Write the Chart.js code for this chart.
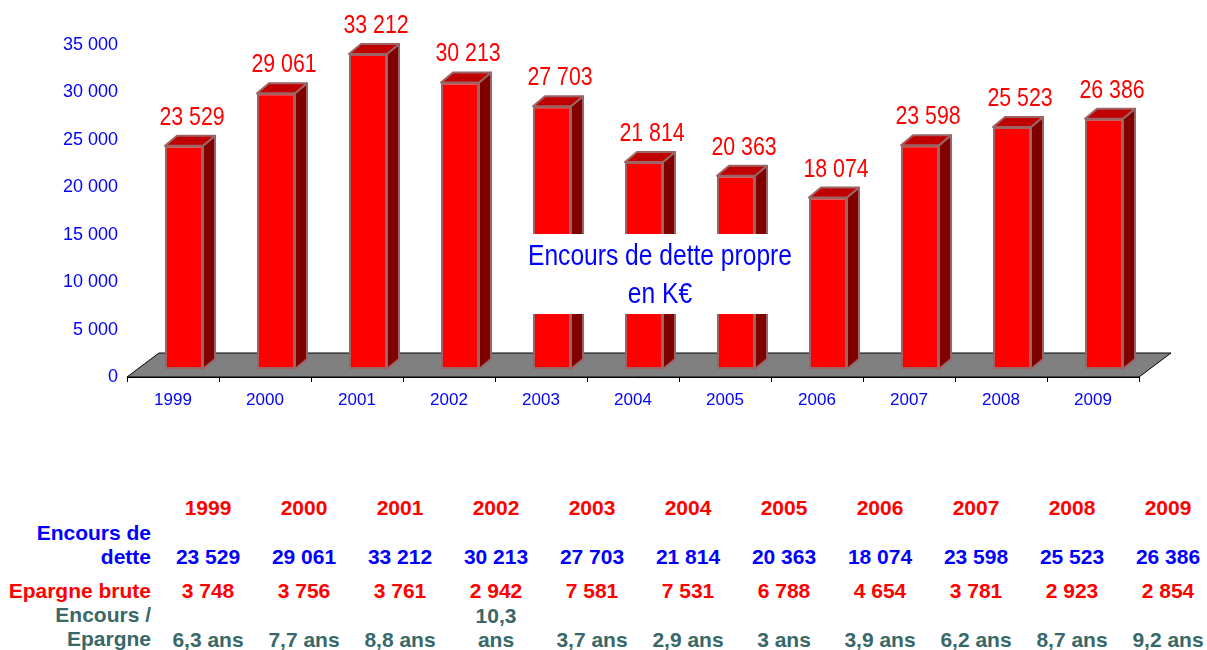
<!DOCTYPE html>
<html>
<head>
<meta charset="utf-8">
<script src="https://cdn.jsdelivr.net/npm/chart.js@4/dist/chart.umd.min.js"></script>
<style>
  html, body { margin:0; padding:0; background:#fff; }
  body { width:1207px; height:650px; position:relative; overflow:hidden; }
  #wrap { position:absolute; left:0; top:0; width:1207px; height:440px; }
  #note { position:absolute; left:518px; top:234px; width:284px; height:80px; background:#fff;
          color:#0000ff; font-family:"Liberation Sans",Arial,sans-serif;
          font-size:30px; line-height:38px; text-align:center; padding-top:2px; box-sizing:border-box; white-space:nowrap; }
  #note span { display:block; width:400px; margin-left:-58px; transform:scaleX(0.82); transform-origin:50% 50%; }
  .cell { position:absolute; width:80px; text-align:center; font-family:"Liberation Sans",Arial,sans-serif;
          font-weight:bold; font-size:21px; line-height:24px; display:flex; flex-direction:column; justify-content:flex-end; }
  .lab { position:absolute; left:5px; width:146px; text-align:right; font-family:"Liberation Sans",Arial,sans-serif;
         font-weight:bold; font-size:21px; line-height:24px; }
</style>
</head>
<body>
<div id="wrap"><canvas id="c" width="1207" height="440"></canvas></div>
<div id="note"><span>Encours de dette propre</span><span>en K€</span></div>
<div id="table"></div>
<script>
const years = ['1999','2000','2001','2002','2003','2004','2005','2006','2007','2008','2009'];
const encours = [23529, 29061, 33212, 30213, 27703, 21814, 20363, 18074, 23598, 25523, 26386];
const epargne = [3748, 3756, 3761, 2942, 7581, 7531, 6788, 4654, 3781, 2923, 2854];
const ratio = ['6,3 ans','7,7 ans','8,8 ans','10,3 ans','3,7 ans','2,9 ans','3 ans','3,9 ans','6,2 ans','8,7 ans','9,2 ans'];
const rowLabels = ['Encours de dette', 'Epargne brute', 'Encours / Epargne'];
const yMin = 0, yMax = 35000, yStep = 5000;

const fmt = n => String(n).replace(/\B(?=(\d{3})+(?!\d))/g, ' ');
const SANS = '"Liberation Sans",Arial,sans-serif';

const DX = 11, DY = -8, SX = 12, SY = -10, FX = 32, FY = -24;

const bar3d = {
  id: 'bar3d',
  beforeDatasetsDraw(chart) {
    const { ctx, chartArea: a } = chart;
    ctx.save();
    ctx.beginPath();
    ctx.moveTo(a.left, a.bottom);
    ctx.lineTo(a.right, a.bottom);
    ctx.lineTo(a.right + FX, a.bottom + FY);
    ctx.lineTo(a.left + FX, a.bottom + FY);
    ctx.closePath();
    ctx.fillStyle = '#808080';
    ctx.fill();
    ctx.strokeStyle = '#000';
    ctx.lineWidth = 1;
    ctx.stroke();
    ctx.restore();

    ctx.save();
    ctx.translate(DX, DY);
    const meta = chart.getDatasetMeta(0);
    meta.data.forEach(b => {
      const x1 = b.x - b.width / 2, x2 = b.x + b.width / 2, yT = b.y, yB = b.base;
      ctx.lineWidth = 2;
      ctx.strokeStyle = '#9c6464';
      ctx.lineJoin = 'round';
      ctx.beginPath();
      ctx.moveTo(x2, yT); ctx.lineTo(x2 + SX, yT + SY); ctx.lineTo(x2 + SX, yB + SY); ctx.lineTo(x2, yB);
      ctx.closePath();
      ctx.fillStyle = '#800000'; ctx.fill(); ctx.stroke();
      ctx.beginPath();
      ctx.moveTo(x1, yT); ctx.lineTo(x2, yT); ctx.lineTo(x2 + SX, yT + SY); ctx.lineTo(x1 + SX, yT + SY);
      ctx.closePath();
      ctx.fillStyle = '#c00000'; ctx.fill(); ctx.stroke();
    });
  },
  afterDatasetsDraw(chart) {
    const { ctx } = chart;
    ctx.restore();
    const meta = chart.getDatasetMeta(0);
    ctx.save();
    ctx.fillStyle = '#ff0000';
    ctx.font = '26px ' + SANS;
    ctx.textAlign = 'center';
    ctx.textBaseline = 'alphabetic';
    meta.data.forEach((b, i) => {
      const cx = b.x + DX + 8, cy = b.y + DY - 21;
      ctx.save();
      ctx.translate(cx, cy);
      ctx.scale(0.82, 1);
      ctx.fillText(fmt(encours[i]), 0, 0);
      ctx.restore();
    });
    ctx.restore();
  }
};

new Chart(document.getElementById('c'), {
  type: 'bar',
  data: {
    labels: years,
    datasets: [{
      data: encours,
      backgroundColor: '#ff0000',
      borderColor: '#9c6464',
      borderWidth: 2,
      borderSkipped: false,
      barPercentage: 0.413,
      categoryPercentage: 1,
      clip: false
    }]
  },
  options: {
    responsive: false,
    devicePixelRatio: 1,
    animation: false,
    layout: { padding: { top: 45, right: 68, left: 0, bottom: 0 } },
    plugins: { legend: { display: false }, tooltip: { enabled: false } },
    scales: {
      x: {
        grid: { display: true, drawOnChartArea: false, drawTicks: true, tickLength: 5, color: '#000', offset: true },
        border: { display: true, color: '#000', width: 1 },
        ticks: { color: '#0000ff', font: { family: SANS, size: 17 }, padding: 8, maxRotation: 0, autoSkip: false },
        afterFit: s => { s.height = 63; }
      },
      y: {
        min: yMin, max: yMax,
        grid: { display: false, drawTicks: false },
        border: { display: false },
        ticks: { stepSize: yStep, color: '#0000ff', font: { family: SANS, size: 18 }, padding: 9,
                 callback: v => fmt(v) },
        afterFit: s => { s.width = 127; }
      }
    }
  },
  plugins: [bar3d]
});

const table = document.getElementById('table');
const colX = i => 208 + 96 * i;
function addCell(text, i, top, height, color) {
  const d = document.createElement('div');
  d.className = 'cell';
  d.style.left = (colX(i) - 40) + 'px';
  d.style.top = top + 'px';
  d.style.height = height + 'px';
  d.style.color = color;
  const s = document.createElement('span');
  s.textContent = text;
  d.appendChild(s);
  table.appendChild(d);
}
function addLabel(text, top, color) {
  const d = document.createElement('div');
  d.className = 'lab';
  d.style.top = top + 'px';
  d.style.color = color;
  d.textContent = text;
  table.appendChild(d);
}
years.forEach((y, i) => addCell(y, i, 496, 24, '#ff0000'));
addLabel(rowLabels[0], 521, '#0000ff');
encours.forEach((v, i) => addCell(fmt(v), i, 521, 48, '#0000ff'));
addLabel(rowLabels[1], 579, '#ff0000');
epargne.forEach((v, i) => addCell(fmt(v), i, 579, 24, '#ff0000'));
addLabel(rowLabels[2], 603, '#386868');
ratio.forEach((v, i) => addCell(v, i, 603, 49, '#386868'));
</script>
</body>
</html>
